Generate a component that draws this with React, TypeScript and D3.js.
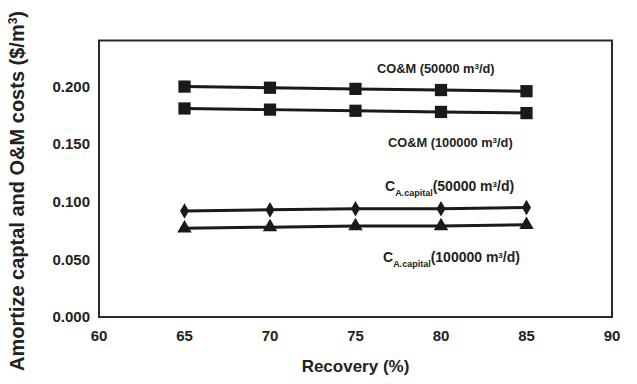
import React, { useEffect, useRef } from 'react';
import * as d3 from 'd3';

// recovery values (x) and the four series
const recovery = [65, 70, 75, 80, 85];
const com50000 = [0.200, 0.199, 0.198, 0.197, 0.196];
const com100000 = [0.181, 0.180, 0.179, 0.178, 0.177];
const cap50000 = [0.092, 0.093, 0.094, 0.094, 0.095];
const cap100000 = [0.077, 0.078, 0.079, 0.079, 0.080];

const xTicks = [60, 65, 70, 75, 80, 85, 90];
const yTicks = [0, 0.05, 0.1, 0.15, 0.2];

const FONT = 'Arial, "Liberation Sans", sans-serif';

const App = () => {
    const svgRef = useRef<SVGSVGElement | null>(null);

    useEffect(() => {
        const width = 637;
        const height = 384;
        const svg = d3.select(svgRef.current);
        svg.selectAll('*').remove();
        svg.attr('width', width).attr('height', height);

        const left = 99, right = 612, top = 40.5, bottom = 317;

        const x = d3.scaleLinear().domain([60, 90]).range([left, right]);
        const y = d3.scaleLinear().domain([0, 0.24]).range([bottom, top]);

        svg.append('rect').attr('width', width).attr('height', height).attr('fill', 'white');

        // frame
        svg.append('rect')
            .attr('x', left).attr('y', top)
            .attr('width', right - left).attr('height', bottom - top)
            .attr('fill', 'none')
            .attr('stroke', '#2a2a2a')
            .attr('stroke-width', 2);

        // tick labels
        svg.append('g').selectAll('text')
            .data(yTicks)
            .join('text')
            .attr('x', 90)
            .attr('y', d => y(d))
            .attr('dy', '0.35em')
            .attr('text-anchor', 'end')
            .style('font-family', FONT)
            .style('font-weight', 'bold')
            .style('font-size', '15px')
            .attr('fill', '#222')
            .text(d => d3.format('.3f')(d));

        svg.append('g').selectAll('text')
            .data(xTicks)
            .join('text')
            .attr('x', d => x(d))
            .attr('y', 341)
            .attr('text-anchor', 'middle')
            .style('font-family', FONT)
            .style('font-weight', 'bold')
            .style('font-size', '15px')
            .attr('fill', '#222')
            .text(d => d);

        // axis titles
        svg.append('text')
            .attr('x', (left + right) / 2)
            .attr('y', 372)
            .attr('text-anchor', 'middle')
            .style('font-family', FONT)
            .style('font-weight', 'bold')
            .style('font-size', '17px')
            .attr('fill', '#222')
            .text('Recovery (%)');

        const yTitle = svg.append('text')
            .attr('transform', `translate(24,${191}) rotate(-90)`)
            .attr('text-anchor', 'middle')
            .style('font-family', FONT)
            .style('font-weight', 'bold')
            .style('font-size', '20px')
            .attr('fill', '#222');
        yTitle.append('tspan').text('Amortize captal and O&M costs ($/m');
        yTitle.append('tspan').attr('baseline-shift', 'super').style('font-size', '12px').text('3');
        yTitle.append('tspan').text(')');

        // series
        const series = [
            { values: com50000, marker: d3.symbolSquare, size: 150 },
            { values: com100000, marker: d3.symbolSquare, size: 150 },
            { values: cap50000, marker: d3.symbolDiamond, size: 70 },
            { values: cap100000, marker: d3.symbolTriangle, size: 90 },
        ];

        const line = d3.line<number>()
            .x((_, i) => x(recovery[i]))
            .y(d => y(d));

        series.forEach(s => {
            svg.append('path')
                .datum(s.values)
                .attr('d', line)
                .attr('fill', 'none')
                .attr('stroke', '#1a1a1a')
                .attr('stroke-width', 3);

            svg.append('g').selectAll('path')
                .data(s.values)
                .join('path')
                .attr('transform', (d, i) => `translate(${x(recovery[i])},${y(d)})`)
                .attr('d', d3.symbol().type(s.marker).size(s.size)())
                .attr('fill', '#1a1a1a');
        });

        // annotations
        const label = (lx: number, ly: number, isCap: boolean, cap: string) => {
            const t = svg.append('text')
                .attr('x', lx).attr('y', ly)
                .style('font-family', FONT)
                .style('font-weight', 'bold')
                .style('font-size', isCap ? '14px' : '12.8px')
                .attr('fill', '#222');
            if (isCap) {
                t.append('tspan').text('C');
                t.append('tspan').attr('baseline-shift', 'sub').style('font-size', '9px').text('A.capital');
                t.append('tspan').text(`(${cap} m`);
            } else {
                t.append('tspan').text(`CO&M (${cap} m`);
            }
            t.append('tspan').attr('baseline-shift', 'super').style('font-size', '8px').text('3');
            t.append('tspan').text('/d)');
        };

        label(377, 73, false, '50000');
        label(388, 147, false, '100000');
        label(385, 191, true, '50000');
        label(383, 262, true, '100000');
    }, []);

    return (
        <div style={{ width: 637, height: 384, margin: -8 }}>
            <svg ref={svgRef} style={{ display: 'block' }}></svg>
        </div>
    );
};

export default App;
